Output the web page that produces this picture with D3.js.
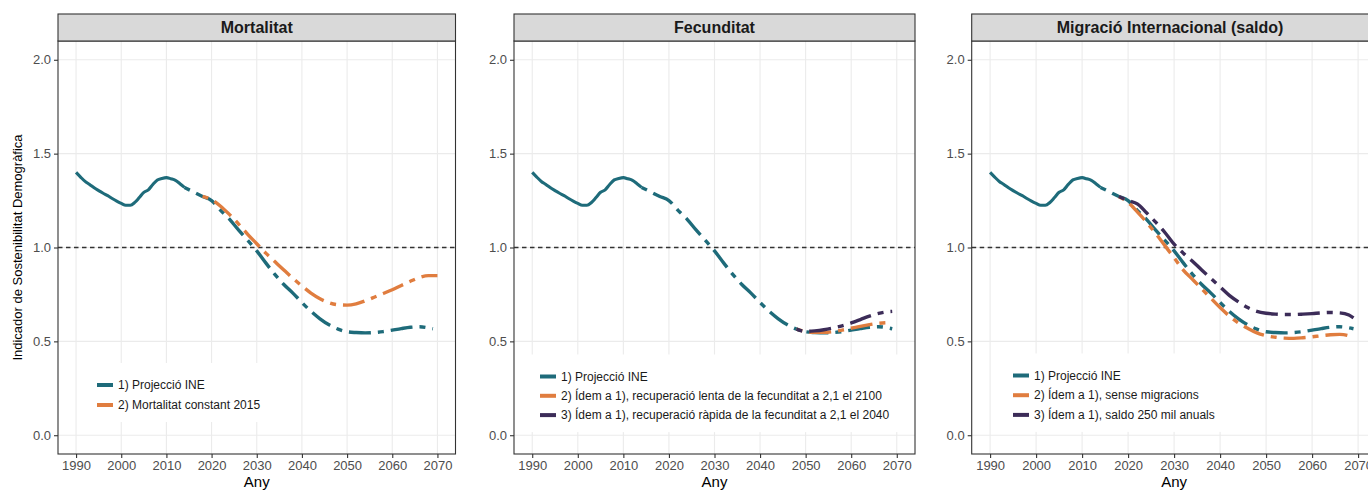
<!DOCTYPE html>
<html><head><meta charset="utf-8">
<script src="https://cdn.jsdelivr.net/npm/d3@7"></script>
<style>body{margin:0;background:#fff} svg{display:block;font-family:"Liberation Sans",Arial,Helvetica,sans-serif}</style>
</head><body><svg id="c" width="1368" height="490"></svg>
<script>
// ---------- DATA ----------
const panelTitles = ["Mortalitat", "Fecunditat", "Migració Internacional (saldo)"];
const xTickYears = [1990, 2000, 2010, 2020, 2030, 2040, 2050, 2060, 2070];
const yTickValues = [0.0, 0.5, 1.0, 1.5, 2.0];
const refLineValue = 1.0;

// Observed (solid) series, common to the three panels
const histYears = [1990,1991,1992,1993,1994,1995,1996,1997,1998,1999,2000,2001,2002,2003,2004,2005,2006,2007,2008,2009,2010,2011,2012,2013,2014];
const histINE   = [1.40,1.375,1.352,1.336,1.318,1.303,1.289,1.276,1.261,1.247,1.235,1.225,1.225,1.240,1.266,1.294,1.307,1.336,1.360,1.368,1.372,1.366,1.358,1.340,1.320];

// 1) Projecció INE (dashed)
const ineYears = [2014,2016,2018,2020,2022,2024,2026,2028,2030,2032,2034,2036,2038,2040,2042,2044,2046,2048,2050,2052,2054,2056,2058,2060,2062,2064,2066,2068,2069];
const ineVals  = [1.320,1.296,1.272,1.250,1.198,1.150,1.092,1.038,0.982,0.918,0.857,0.803,0.757,0.707,0.660,0.620,0.588,0.565,0.551,0.547,0.545,0.547,0.552,0.560,0.568,0.575,0.578,0.572,0.567];

// Mortalitat: 2) Mortalitat constant 2015
const mortYears = [2018,2020,2022,2024,2026,2028,2030,2032,2034,2036,2038,2040,2042,2044,2046,2048,2050,2052,2054,2056,2058,2060,2062,2064,2066,2068,2070];
const mortConst = [1.272,1.255,1.220,1.175,1.125,1.070,1.020,0.970,0.925,0.880,0.836,0.795,0.757,0.727,0.706,0.695,0.693,0.700,0.716,0.735,0.755,0.775,0.798,0.820,0.840,0.850,0.850];

// Fecunditat: 2) lenta, 3) ràpida
const fecYears  = [2048,2050,2052,2054,2056,2058,2060,2062,2064,2066,2068,2069];
const fecLenta  = [0.565,0.552,0.548,0.548,0.552,0.560,0.570,0.580,0.589,0.596,0.599,0.599];
const fecRapida = [0.565,0.553,0.556,0.562,0.571,0.583,0.598,0.616,0.635,0.649,0.658,0.660];

// Migració: 2) sense migracions, 3) saldo 250 mil anuals
const migYears   = [2018,2020,2022,2024,2026,2028,2030,2032,2034,2036,2038,2040,2042,2044,2046,2048,2050,2052,2054,2056,2058,2060,2062,2064,2066,2068,2069];
const migSense   = [1.270,1.240,1.190,1.135,1.075,1.010,0.945,0.880,0.830,0.780,0.730,0.680,0.635,0.598,0.570,0.545,0.530,0.522,0.517,0.516,0.519,0.524,0.530,0.535,0.537,0.530,0.518];
const mig250     = [1.272,1.250,1.232,1.185,1.135,1.080,1.018,0.970,0.927,0.880,0.835,0.790,0.745,0.710,0.680,0.660,0.650,0.645,0.643,0.643,0.645,0.648,0.652,0.654,0.652,0.640,0.625];

const legendMort = ["1) Projecció INE", "2) Mortalitat constant 2015"];
const legendFec  = ["1) Projecció INE", "2) Ídem a 1), recuperació lenta de la fecunditat a 2,1 el 2100", "3) Ídem a 1), recuperació ràpida de la fecunditat a 2,1 el 2040"];
const legendMig  = ["1) Projecció INE", "2) Ídem a 1), sense migracions", "3) Ídem a 1), saldo 250 mil anuals"];

// ---------- STYLE / LAYOUT ----------
const C_TEAL = "#1E6B7A", C_ORANGE = "#E07D3F", C_PURPLE = "#3C2C58";
const DASH = "6,7,22,7";
const LW = 3.4;
const pTop = 41, pBottom = 454, stripTop = 14;

const pack = (ys, vs) => ys.map((yr, i) => ({year: yr, v: vs[i]}));

const panels = [
  { title: panelTitles[0], x0: 58, x1: 455.5,
    series: [ {d: pack(mortYears, mortConst), c: C_ORANGE} ],
    legend: legendMort, legColors: [C_TEAL, C_ORANGE],
    leg: {kx: 97, row0: 385, step: 20, padL: 20, w: 185} },
  { title: panelTitles[1], x0: 514, x1: 915,
    series: [ {d: pack(fecYears, fecLenta), c: C_ORANGE}, {d: pack(fecYears, fecRapida), c: C_PURPLE} ],
    legend: legendFec, legColors: [C_TEAL, C_ORANGE, C_PURPLE],
    leg: {kx: 540, row0: 376.5, step: 19.3, padL: 10, w: 368} },
  { title: panelTitles[2], x0: 971.7, x1: 1376.5,
    series: [ {d: pack(migYears, migSense), c: C_ORANGE}, {d: pack(migYears, mig250), c: C_PURPLE} ],
    legend: legendMig, legColors: [C_TEAL, C_ORANGE, C_PURPLE],
    leg: {kx: 1013, row0: 375.5, step: 19.7, padL: 20, w: 240} }
];

const svg = d3.select("#c");
const yS = d3.scaleLinear().domain([-0.1, 2.1]).range([pBottom, pTop]);

panels.forEach((p, pi) => {
  const xS = d3.scaleLinear().domain([1986, 2074]).range([p.x0, p.x1]);
  const g = svg.append("g");
  const cid = "clip" + pi;
  svg.append("clipPath").attr("id", cid).append("rect")
    .attr("x", p.x0).attr("y", pTop).attr("width", p.x1 - p.x0).attr("height", pBottom - pTop);

  g.append("rect").attr("x", p.x0).attr("y", pTop).attr("width", p.x1 - p.x0).attr("height", pBottom - pTop).attr("fill", "#fff");
  g.selectAll(".gx").data(xTickYears).join("line")
    .attr("x1", d => xS(d)).attr("x2", d => xS(d)).attr("y1", pTop).attr("y2", pBottom)
    .attr("stroke", "#EBEBEB").attr("stroke-width", 1.1);
  g.selectAll(".gy").data(yTickValues).join("line")
    .attr("x1", p.x0).attr("x2", p.x1).attr("y1", d => yS(d)).attr("y2", d => yS(d))
    .attr("stroke", "#EBEBEB").attr("stroke-width", 1.1);

  g.append("line").attr("x1", p.x0).attr("x2", p.x1).attr("y1", yS(refLineValue)).attr("y2", yS(refLineValue))
    .attr("stroke", "#333").attr("stroke-width", 1.3).attr("stroke-dasharray", "4.5,3.5");

  const line = d3.line().x(d => xS(d.year)).y(d => yS(d.v)).curve(d3.curveMonotoneX);
  const lg = g.append("g").attr("clip-path", `url(#${cid})`);
  lg.append("path").attr("d", line(pack(histYears, histINE))).attr("fill", "none")
    .attr("stroke", C_TEAL).attr("stroke-width", LW - 0.3).attr("stroke-linejoin", "round");
  lg.append("path").attr("d", line(pack(ineYears, ineVals))).attr("fill", "none")
    .attr("stroke", C_TEAL).attr("stroke-width", LW).attr("stroke-dasharray", DASH);
  p.series.forEach(s => {
    lg.append("path").attr("d", line(s.d)).attr("fill", "none")
      .attr("stroke", s.c).attr("stroke-width", LW).attr("stroke-dasharray", DASH);
  });

  const L = p.leg;
  const n = p.legend.length;
  g.append("rect").attr("x", L.kx - L.padL).attr("y", L.row0 - 22)
    .attr("width", L.w + L.padL).attr("height", (n - 1) * L.step + 39).attr("fill", "#fff");
  p.legend.forEach((t, i) => {
    const yy = L.row0 + i * L.step;
    g.append("line").attr("x1", L.kx).attr("x2", L.kx + 16).attr("y1", yy).attr("y2", yy)
      .attr("stroke", p.legColors[i]).attr("stroke-width", 4);
    g.append("text").attr("x", L.kx + 21).attr("y", yy).attr("dy", "0.35em")
      .attr("font-size", 12).attr("fill", "#1a1a1a").text(t);
  });

  g.append("rect").attr("x", p.x0).attr("y", pTop).attr("width", p.x1 - p.x0).attr("height", pBottom - pTop)
    .attr("fill", "none").attr("stroke", "#333").attr("stroke-width", 1.1);

  g.append("rect").attr("x", p.x0).attr("y", stripTop).attr("width", p.x1 - p.x0).attr("height", pTop - stripTop)
    .attr("fill", "#D9D9D9").attr("stroke", "#333").attr("stroke-width", 1.1);
  g.append("text").attr("x", (p.x0 + p.x1) / 2 - (pi === 2 ? 4 : 0)).attr("y", (stripTop + pTop) / 2).attr("dy", "0.36em")
    .attr("text-anchor", "middle").attr("font-weight", "bold").attr("font-size", 16).attr("fill", "#1A1A1A").text(p.title);

  const ax = d3.axisBottom(xS).tickValues(xTickYears).tickFormat(d3.format("d")).tickSize(4).tickPadding(3);
  const axg = svg.append("g").attr("transform", `translate(0,${pBottom})`).call(ax);
  const ay = d3.axisLeft(yS).tickValues(yTickValues).tickFormat(d3.format(".1f")).tickSize(4).tickPadding(3);
  const ayg = svg.append("g").attr("transform", `translate(${p.x0},0)`).call(ay);
  [axg, ayg].forEach(a => {
    a.select(".domain").remove();
    a.selectAll(".tick line").attr("stroke", "#333").attr("stroke-width", 1.1);
    a.selectAll(".tick text").attr("fill", "#4D4D4D").attr("font-size", 13).attr("font-family", "Liberation Sans, Arial, sans-serif");
  });

  svg.append("text").attr("x", xS(2030)).attr("y", 487).attr("text-anchor", "middle")
    .attr("font-size", 15).attr("fill", "#000").text("Any");
});

svg.append("text").attr("transform", `translate(22,${(pTop + pBottom) / 2}) rotate(-90)`)
  .attr("text-anchor", "middle").attr("font-size", 13).attr("fill", "#000")
  .text("Indicador de Sostenibilitat Demogràfica");
</script></body></html>
